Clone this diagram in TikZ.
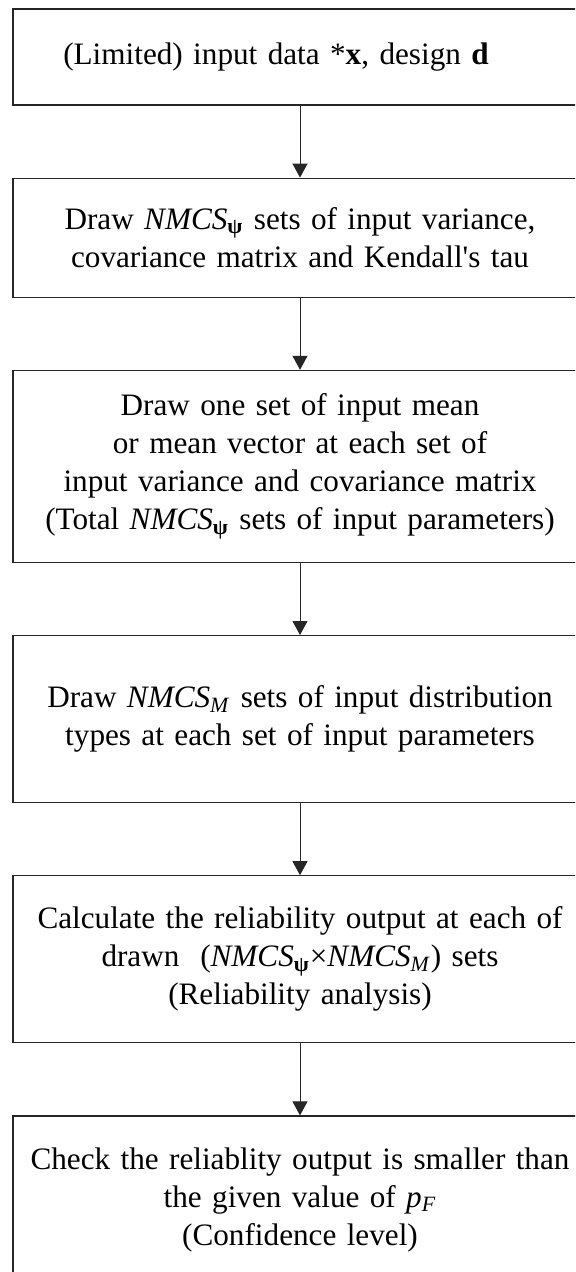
\documentclass[tikz,border=0pt]{standalone}
\usepackage{fontspec}
\setmainfont{Liberation Serif}
\usetikzlibrary{positioning,arrows.meta}

\tikzset{
    stepbox/.style={draw=black!85, line width=0.6pt, text width=280pt, minimum width=287pt,
        inner xsep=3.5pt, align=center, font=\fontsize{15.6}{19}\selectfont},
    flow/.style={draw=black!85, line width=0.5pt, -{Triangle[length=7pt,width=7.5pt]}}
}
\newcommand{\nmcs}[1]{\textit{NMCS}\textsubscript{#1}}

\begin{document}
\begin{tikzpicture}[x=0.5pt,y=-0.5pt, node distance=36pt]
    \useasboundingbox (0,0) rectangle (575,1272);
    \clip (0,0) rectangle (575,1272);

    % Steps of the procedure (right side runs off the page)
    \node[stepbox, minimum height=48pt] (input) at (300,57)
        {(Limited) input data *\textbf{x}, design \textbf{d}\hspace*{24pt}\mbox{}};
    \node[stepbox, minimum height=59.5pt, below=of input] (variance)
        {Draw \nmcs{\textbf{ψ}} sets of input variance,\\
         covariance matrix and Kendall\textquotesingle s tau};
    \node[stepbox, minimum height=96pt, below=of variance] (mean)
        {Draw one set of input mean\\ or mean vector at each set of\\ input variance and covariance matrix\\
         (Total \nmcs{\textbf{ψ}} sets of input parameters)};
    \node[stepbox, minimum height=83.5pt, below=of mean] (types)
        {Draw \nmcs{\textit{M}} sets of input distribution\\ types at each set of input parameters};
    \node[stepbox, minimum height=83.5pt, below=of types] (analysis)
        {Calculate the reliability output at each of\\
         drawn~ (\nmcs{\textbf{ψ}}×\nmcs{\textit{M}}) sets\\ (Reliability analysis)};
    \node[stepbox, minimum height=83.5pt, below=of analysis] (check)
        {Check the reliablity output is smaller than\\ the given value of \textit{p}\textsubscript{\textit{F}}\\
         (Confidence level)};

    % Arrows
    \foreach \a/\b in {input/variance,variance/mean,mean/types,types/analysis,analysis/check}
        \draw[flow] (\a) -- (\b);
\end{tikzpicture}
\end{document}
